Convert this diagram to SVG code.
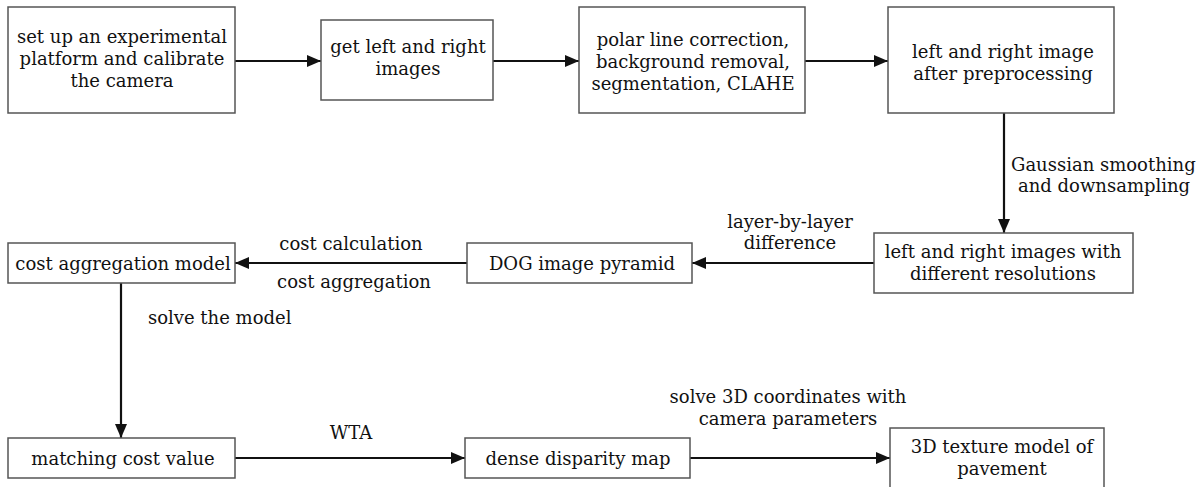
<svg xmlns="http://www.w3.org/2000/svg" width="1201" height="487" viewBox="0 0 1201 487">
<defs>
<style>
.box{fill:#fff;stroke:#555;stroke-width:1.5}
.t{font-family:"DejaVu Serif","Liberation Serif",serif;font-size:18px;fill:#111;text-anchor:middle}
.tl{font-family:"DejaVu Serif","Liberation Serif",serif;font-size:18px;fill:#111;text-anchor:start}
.c{stroke:#111;stroke-width:2.2;fill:none;marker-end:url(#ah)}
</style>
<marker id="ah" markerUnits="userSpaceOnUse" markerWidth="14" markerHeight="12" refX="14" refY="6" orient="auto">
<path d="M0,0 L14,6 L0,12 z" fill="#111"/>
</marker>
</defs>
<rect width="1201" height="487" fill="#fff"/>
<g id="connectors">
<line class="c" x1="235" y1="61" x2="321" y2="61"/>
<line class="c" x1="493" y1="61" x2="579" y2="61"/>
<line class="c" x1="805" y1="61" x2="888" y2="61"/>
<line class="c" x1="1004" y1="113" x2="1004" y2="233"/>
<line class="c" x1="874" y1="263" x2="692" y2="263"/>
<line class="c" x1="467" y1="263" x2="235" y2="263"/>
<line class="c" x1="121" y1="283" x2="121" y2="438"/>
<line class="c" x1="235" y1="458" x2="465" y2="458"/>
<line class="c" x1="690" y1="458" x2="890" y2="458"/>
<text class="tl" x="1011" y="171">Gaussian smoothing</text>
<text class="tl" x="1018" y="192">and downsampling</text>
<text class="t" x="790" y="228">layer-by-layer</text>
<text class="t" x="790" y="249">difference</text>
<text class="t" x="351" y="250">cost calculation</text>
<text class="t" x="354" y="288">cost aggregation</text>
<text class="tl" x="148" y="324">solve the model</text>
<text class="t" x="351" y="439">WTA</text>
<text class="t" x="788" y="403">solve 3D coordinates with</text>
<text class="t" x="788" y="425">camera parameters</text>
</g>
<g id="n1"><rect class="box" x="8" y="7" width="227" height="106"/>
<text class="t" x="122" y="43">set up an experimental</text>
<text class="t" x="122" y="65">platform and calibrate</text>
<text class="t" x="122" y="87">the camera</text></g>
<g id="n2"><rect class="box" x="321" y="20" width="172" height="80"/>
<text class="t" x="408" y="53">get left and right</text>
<text class="t" x="408" y="75">images</text></g>
<g id="n3"><rect class="box" x="579" y="7" width="226" height="106"/>
<text class="t" x="693" y="46">polar line correction,</text>
<text class="t" x="693" y="68">background removal,</text>
<text class="t" x="693" y="90">segmentation, CLAHE</text></g>
<g id="n4"><rect class="box" x="888" y="7" width="226" height="106"/>
<text class="t" x="1003" y="58">left and right image</text>
<text class="t" x="1003" y="80">after preprocessing</text></g>
<g id="n5"><rect class="box" x="874" y="233" width="259" height="60"/>
<text class="t" x="1003" y="258">left and right images with</text>
<text class="t" x="1003" y="280">different resolutions</text></g>
<g id="n6"><rect class="box" x="467" y="243" width="225" height="40"/>
<text class="t" x="582" y="270">DOG image pyramid</text></g>
<g id="n7"><rect class="box" x="8" y="243" width="227" height="40"/>
<text class="t" x="123" y="270">cost aggregation model</text></g>
<g id="n8"><rect class="box" x="8" y="438" width="227" height="40"/>
<text class="t" x="123" y="465">matching cost value</text></g>
<g id="n9"><rect class="box" x="465" y="438" width="225" height="40"/>
<text class="t" x="578" y="465">dense disparity map</text></g>
<g id="n10"><rect class="box" x="890" y="428" width="214" height="70"/>
<text class="t" x="1002" y="453">3D texture model of</text>
<text class="t" x="1002" y="475">pavement</text></g>
</svg>
